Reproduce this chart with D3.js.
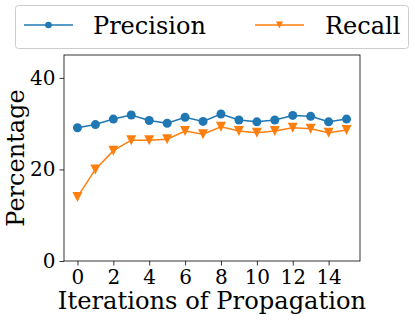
<!DOCTYPE html>
<html><head><meta charset="utf-8">
<script src="https://cdn.jsdelivr.net/npm/d3@7"></script>
<style>body{margin:0;background:#fff}svg{display:block}</style>
</head><body>
<svg id="c" width="415" height="320"></svg>
<script>
const iterations = d3.range(0, 16);
const precision = [29.1, 29.8, 31.0, 31.9, 30.7, 30.1, 31.4, 30.5, 32.1, 30.8, 30.4, 30.8, 31.8, 31.6, 30.4, 31.0];
const recall    = [14.0, 20.0, 24.1, 26.4, 26.4, 26.6, 28.4, 27.7, 29.3, 28.4, 28.0, 28.4, 29.1, 28.9, 28.0, 28.6];
const xTicks = [0, 2, 4, 6, 8, 10, 12, 14];
const yTicks = [0, 20, 40];
const seriesNames = ["Precision", "Recall"];
const colors = ["#1f77b4", "#ff7f0e"];

const svg = d3.select("#c");
const font = "DejaVu Serif";
const L = 64, R = 360, T = 55, B = 261;
const x = d3.scaleLinear().domain([-0.75, 15.75]).range([L, R]);
const y = d3.scaleLinear().domain([0, 45]).range([B, T]);

// axes
const gx = svg.append("g").attr("transform", `translate(0,${B})`)
  .call(d3.axisBottom(x).tickValues(xTicks).tickSize(4.5).tickPadding(4));
const gy = svg.append("g").attr("transform", `translate(${L},0)`)
  .call(d3.axisLeft(y).tickValues(yTicks).tickSize(4.5).tickPadding(4));
[gx, gy].forEach(g => {
  g.select(".domain").remove();
  g.selectAll("line").attr("stroke", "#000").attr("stroke-width", 0.8);
  g.selectAll("text").attr("font-family", font).attr("font-size", 20).attr("fill", "#000");
});
// spines
svg.append("rect").attr("x", L).attr("y", T).attr("width", R - L).attr("height", B - T)
  .attr("fill", "none").attr("stroke", "#000").attr("stroke-width", 0.8);

// axis labels
svg.append("text").attr("x", (L + R) / 2).attr("y", 309).attr("text-anchor", "middle")
  .attr("font-family", font).attr("font-size", 24.2).text("Iterations of Propagation");
svg.append("text").attr("transform", `translate(24,${(T + B) / 2}) rotate(-90)`)
  .attr("text-anchor", "middle").attr("font-family", font).attr("font-size", 24).text("Percentage");

const data = [precision, recall];
const line = d3.line().x((d, i) => x(iterations[i])).y(d => y(d));
const tri = (cx, cy, s) => `M${cx - s},${cy - s}L${cx + s},${cy - s}L${cx},${cy + s}Z`;

data.forEach((vals, si) => {
  svg.append("path").attr("d", line(vals)).attr("fill", "none")
    .attr("stroke", colors[si]).attr("stroke-width", 1.5);
  const g = svg.append("g");
  vals.forEach((v, i) => {
    if (si === 0) {
      g.append("circle").attr("cx", x(iterations[i])).attr("cy", y(v)).attr("r", 4.5).attr("fill", colors[si]);
    } else {
      g.append("path").attr("d", tri(x(iterations[i]), y(v), 5)).attr("fill", colors[si]);
    }
  });
});

// legend
const lg = svg.append("g");
lg.append("rect").attr("x", 15.5).attr("y", 5.5).attr("width", 393).attr("height", 43).attr("rx", 3)
  .attr("fill", "#fff").attr("stroke", "#ccc").attr("stroke-width", 1);
const items = [{x0: 24, tx: 93}, {x0: 255, tx: 325}];
items.forEach((it, i) => {
  lg.append("line").attr("x1", it.x0).attr("x2", it.x0 + 49).attr("y1", 25).attr("y2", 25)
    .attr("stroke", colors[i]).attr("stroke-width", 1.5);
  if (i === 0) lg.append("circle").attr("cx", it.x0 + 24.5).attr("cy", 25).attr("r", 3.3).attr("fill", colors[i]);
  else lg.append("path").attr("d", tri(it.x0 + 24.5, 25, 3.6)).attr("fill", colors[i]);
  lg.append("text").attr("x", it.tx).attr("y", 34).attr("font-family", font).attr("font-size", 24)
    .text(seriesNames[i]);
});
</script>
</body></html>
